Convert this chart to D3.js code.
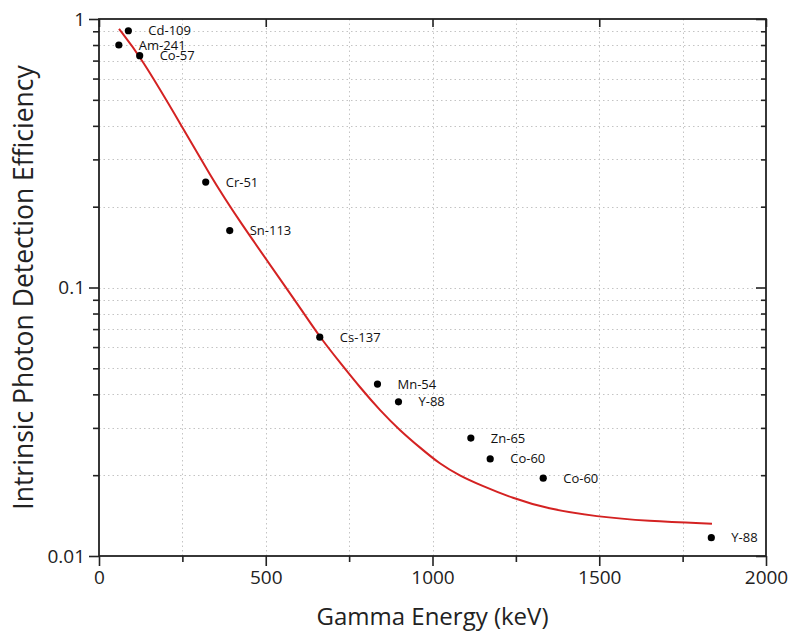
<!DOCTYPE html>
<html>
<head>
<meta charset="utf-8">
<script src="https://cdn.jsdelivr.net/npm/d3@7"></script>
<style>
  html, body { margin: 0; padding: 0; background: #fff; }
  svg { display: block; font-family: "Open Sans", sans-serif; }
</style>
</head>
<body>
<svg id="chart" width="790" height="635"></svg>
<script>
// ---- data ----
const isotopes = ["Cd-109", "Am-241", "Co-57", "Cr-51", "Sn-113", "Cs-137", "Mn-54", "Y-88", "Zn-65", "Co-60", "Co-60", "Y-88"];
const energies = [88, 59.5, 122, 320, 392, 662, 835, 898, 1115, 1173, 1332, 1836];
const efficiencies = [0.904, 0.80, 0.73, 0.247, 0.163, 0.0653, 0.0437, 0.0375, 0.0275, 0.0230, 0.0195, 0.0117];

// fitted curve
const fitEnergy = [60, 123, 252, 333, 408, 603, 663, 723, 783, 843, 903, 963, 1022, 1082, 1142, 1241, 1343, 1493, 1643, 1838];
const fitEfficiency = [0.918, 0.730, 0.392, 0.262, 0.186, 0.0842, 0.0651, 0.0525, 0.0424, 0.0348, 0.0293, 0.0253, 0.0220, 0.0199, 0.0184, 0.0164, 0.0150, 0.0140, 0.0135, 0.0132];

const xTicks = [0, 500, 1000, 1500, 2000];
const xMinorTicks = [250, 750, 1250, 1750];
const yTicks = [0.01, 0.1, 1];
const yTickLabels = ["0.01", "0.1", "1"];
const yMinorTicks = [0.02, 0.03, 0.04, 0.05, 0.06, 0.07, 0.08, 0.09, 0.2, 0.3, 0.4, 0.5, 0.6, 0.7, 0.8, 0.9];

const xTitle = "Gamma Energy (keV)";
const yTitle = "Intrinsic Photon Detection Efficiency";

// ---- layout ----
const L = 99, R = 766, T = 19, B = 556;
const svg = d3.select("#chart");
const x = d3.scaleLinear().domain([0, 2000]).range([L, R]);
const y = d3.scaleLog().domain([0.01, 1]).range([B, T]);

// grid
const grid = svg.append("g").attr("stroke", "#c4c4c4").attr("stroke-width", 1).attr("stroke-dasharray", "1.5,3");
grid.selectAll("line.h").data(yMinorTicks.concat([0.1])).join("line")
  .attr("x1", L).attr("x2", R).attr("y1", d => Math.round(y(d)) + 0.5).attr("y2", d => Math.round(y(d)) + 0.5);
grid.selectAll("line.v").data(xMinorTicks.concat([500, 1000, 1500])).join("line")
  .attr("y1", T).attr("y2", B).attr("x1", d => Math.round(x(d)) + 0.5).attr("x2", d => Math.round(x(d)) + 0.5);

// axes
const fontTick = "19px";
const gBottom = svg.append("g").attr("transform", `translate(0,${B})`)
  .call(d3.axisBottom(x).tickValues(xTicks).tickSize(10).tickPadding(5).tickFormat(d3.format("d")));
const gBottomMinor = svg.append("g").attr("transform", `translate(0,${B})`)
  .call(d3.axisBottom(x).tickValues(xMinorTicks).tickSize(6).tickFormat(""));
const gTop = svg.append("g").attr("transform", `translate(0,${T})`)
  .call(d3.axisBottom(x).tickValues(xTicks).tickSize(8).tickFormat(""));
const gLeft = svg.append("g").attr("transform", `translate(${L},0)`)
  .call(d3.axisLeft(y).tickValues(yTicks).tickSize(10).tickPadding(4).tickFormat((d, i) => yTickLabels[i]));
const gLeftMinor = svg.append("g").attr("transform", `translate(${L},0)`)
  .call(d3.axisLeft(y).tickValues(yMinorTicks).tickSize(6).tickFormat(""));
const gRight = svg.append("g").attr("transform", `translate(${R},0)`)
  .call(d3.axisLeft(y).tickValues(yTicks).tickSize(10).tickFormat(""));
const gRightMinor = svg.append("g").attr("transform", `translate(${R},0)`)
  .call(d3.axisLeft(y).tickValues(yMinorTicks).tickSize(5).tickFormat(""));

[gBottom, gBottomMinor, gTop, gLeft, gLeftMinor, gRight, gRightMinor].forEach(g => {
  g.select(".domain").remove();
  g.selectAll(".tick line").attr("stroke", "#222").attr("stroke-width", 1.6);
  g.selectAll("text").attr("font-family", "Open Sans, sans-serif").attr("font-size", fontTick).attr("fill", "#222");
});

// frame
svg.append("rect").attr("x", L).attr("y", T).attr("width", R - L).attr("height", B - T)
  .attr("fill", "none").attr("stroke", "#222").attr("stroke-width", 1.8);

// fit curve
const fit = fitEnergy.map((e, i) => [e, fitEfficiency[i]]);
svg.append("path").datum(fit)
  .attr("fill", "none").attr("stroke", "#d42222").attr("stroke-width", 2)
  .attr("d", d3.line().x(d => x(d[0])).y(d => y(d[1])).curve(d3.curveBasis));

// points
const pts = energies.map((e, i) => ({ e, v: efficiencies[i], name: isotopes[i] }));
svg.append("g").selectAll("circle").data(pts).join("circle")
  .attr("cx", d => x(d.e)).attr("cy", d => y(d.v)).attr("r", 3.6).attr("fill", "#000");
svg.append("g").selectAll("text").data(pts).join("text")
  .attr("x", d => x(d.e) + 20).attr("y", d => y(d.v)).attr("dy", "0.35em")
  .attr("font-size", "13px").attr("fill", "#111").text(d => d.name);

// titles
svg.append("text").attr("x", (L + R) / 2).attr("y", 625).attr("text-anchor", "middle")
  .attr("font-size", "24px").attr("fill", "#222").text(xTitle);
svg.append("text").attr("transform", `translate(33,${(T + B) / 2}) rotate(-90)`).attr("text-anchor", "middle")
  .attr("font-size", "26.5px").attr("fill", "#222").text(yTitle);
</script>
</body>
</html>
